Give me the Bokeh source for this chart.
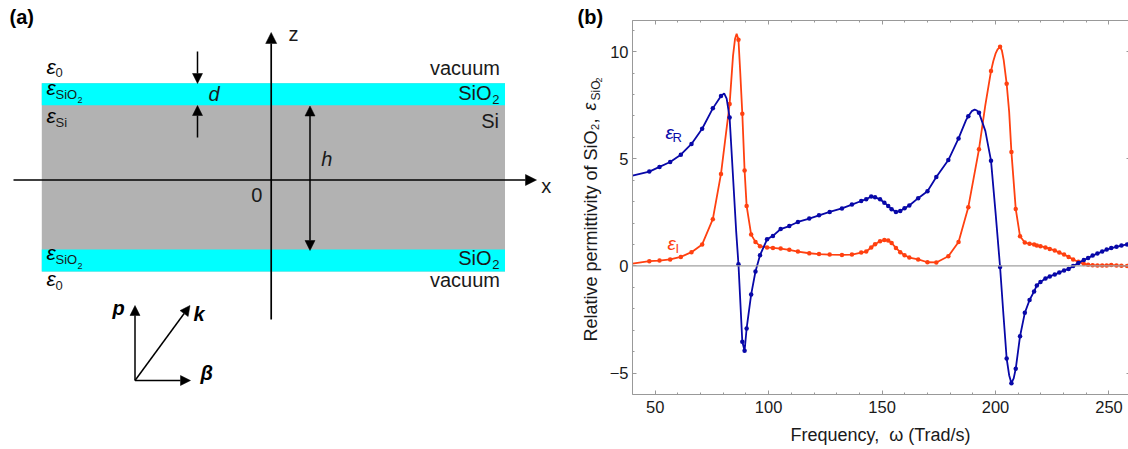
from math import pi
from bokeh.embed import file_html
from bokeh.layouts import row
from bokeh.models import Arrow, FixedTicker, Label, LinearAxis, NormalHead, Range1d, Span
from bokeh.plotting import figure
from bokeh.resources import INLINE

FONT = "Liberation Sans"
BLUE = "#0808A8"
RED = "#FF4010"
AXIS = "#999999"
INK = "#1A1A1A"

# Data: marker samples of both permittivity curves (Trad/s)
freq_pts = [47.4, 51.9, 56.6, 61.3, 66.0, 70.7, 75.4, 79.0, 82.8, 86.7, 88.4, 89.4, 90.3, 92.3, 94.2, 96.2,
            99.3, 101.9, 105.3, 109.1, 112.9, 117.9, 122.2, 126.9, 132.3, 136.7, 140.8, 143.0, 145.2, 146.9,
            149.1, 151.0, 152.7, 154.2, 156.1, 158.0, 159.9, 162.0, 165.9, 170.0, 173.9, 179.2, 183.7, 188.0,
            192.7, 198.0, 202.0, 204.9, 207.0, 208.9, 210.8, 212.9, 215.0, 217.0, 218.2, 219.8, 222.0, 223.9,
            226.1, 228.1, 230.2, 232.2, 234.2, 236.5, 238.9, 240.8, 242.8, 244.9, 247.0, 249.0, 251.0, 253.3,
            255.5, 258.0]
eps_r_pts = [4.40, 4.62, 4.85, 5.19, 5.69, 6.40, 7.35, 7.93, 6.92, 0.08, -3.54, -3.96, -2.92, -1.33, -0.26, 0.50,
             1.24, 1.40, 1.72, 1.86, 2.05, 2.21, 2.36, 2.52, 2.68, 2.86, 3.03, 3.11, 3.24, 3.20,
             3.11, 2.95, 2.80, 2.64, 2.52, 2.56, 2.69, 2.82, 3.16, 3.48, 4.15, 4.94, 5.95, 6.98,
             7.15, 4.91, -0.05, -4.32, -5.47, -4.80, -3.28, -2.19, -1.59, -1.19, -0.91, -0.75, -0.59, -0.49,
             -0.40, -0.31, -0.21, -0.14, -0.01, 0.14, 0.27, 0.37, 0.48, 0.58, 0.67, 0.76, 0.83, 0.89,
             0.95, 1.00]
eps_i_pts = [0.22, 0.25, 0.30, 0.42, 0.64, 1.00, 2.18, 4.29, 7.55, 10.55, 7.10, 4.45, 2.80, 1.46, 1.12, 0.92,
             0.86, 0.84, 0.81, 0.75, 0.67, 0.59, 0.55, 0.53, 0.51, 0.53, 0.62, 0.67, 0.86, 1.01,
             1.15, 1.21, 1.18, 1.07, 0.84, 0.64, 0.50, 0.39, 0.30, 0.17, 0.16, 0.45, 1.12, 2.74,
             5.44, 9.09, 10.22, 8.50, 5.31, 2.66, 1.38, 1.09, 1.03, 1.00, 0.95, 0.92, 0.86, 0.79,
             0.72, 0.62, 0.53, 0.42, 0.30, 0.19, 0.09, 0.05, 0.03, 0.02, 0.02, 0.02, 0.04, 0.02,
             0.01, 0.00]

# Data: extra readings of the continuous curves between markers (ends, peaks, troughs)
freq_r_extra = [40.0, 80.4, 81.5, 84.5, 85.7, 187.0, 189.5, 190.8, 191.8, 195.5, 200.0, 203.5, 206.0, 208.0, 258.6]
eps_r_extra = [4.21, 8.05, 7.80, 3.80, 1.60, 6.80, 7.22, 7.29, 7.25, 6.30, 2.50, -2.30, -5.10, -5.25, 1.01]
freq_i_extra = [40.0, 84.3, 85.2, 85.9, 87.5, 195.5, 199.0, 200.0, 200.9, 202.8, 203.6, 206.0, 258.6]
eps_i_extra = [0.11, 9.80, 10.60, 10.83, 9.00, 7.50, 9.55, 9.90, 10.10, 10.05, 9.60, 7.20, 0.00]

freq_ticks = [50, 100, 150, 200, 250]
freq_minor = [40, 60, 70, 80, 90, 110, 120, 130, 140, 160, 170, 180, 190, 210, 220, 230, 240]
eps_ticks = [-5, 0, 5, 10]
eps_minor = [-4, -3, -2, -1, 1, 2, 3, 4, 6, 7, 8, 9, 11]

PAGE_W, PAGE_H, SPLIT, LEFT_W = 1128, 449, 574, 620
FRAME_L, FRAME_B = 632, 394
BASE_SHIFT = 0.4  # Label draws this share of its font size below the requested baseline


def merged(fx, fy, ex, ey):
    pairs = sorted(zip(list(fx) + list(ex), list(fy) + list(ey)))
    return [a for a, _ in pairs], [b for _, b in pairs]


# ---------- panel (a): schematic, drawn in page pixels ----------
a = figure(width=LEFT_W, height=PAGE_H, output_backend="svg", toolbar_location=None,
           x_range=Range1d(0, LEFT_W), y_range=Range1d(PAGE_H, 0), min_border=0,
           outline_line_color=None, frame_align=False)
a.axis.visible = False
a.grid.visible = False

a.quad(left=[41.3], right=[504.5], top=[82.7], bottom=[271], fill_color="#B2B2B2", line_color=None)
a.quad(left=[41.3, 41.3], right=[504.5, 504.5], top=[82.7, 249], bottom=[104.7, 271],
       fill_color="#00FFFF", line_color=None)


def arrow(x0, y0, x1, y1, both=False, size=10, width=1.5):
    head = lambda: NormalHead(size=size, fill_color="black", line_color="black", line_width=0.5)
    a.add_layout(Arrow(end=head(), start=head() if both else None, x_start=x0, y_start=y0, x_end=x1, y_end=y1,
                       line_color="black", line_width=width))


arrow(13, 179.5, 536, 179.5, size=11, width=1.7)
arrow(270.7, 319, 270.7, 32, size=11, width=1.7)
arrow(197, 51, 197, 83)
arrow(197, 137, 197, 105)
arrow(309.5, 105.5, 309.5, 250, both=True)
arrow(134.5, 380, 134.5, 305)
arrow(134.5, 380, 190, 380)
arrow(134.5, 380, 189.5, 305)


def ta(text, x, y, size=20, style="normal", align="left", color=INK, angle=0):
    shift = BASE_SHIFT * size
    px, py = (x - shift, y) if angle else (x, y - shift)
    a.add_layout(Label(x=px, y=py, text=text, text_font=FONT, text_font_size=f"{size}px", text_font_style=style,
                       text_align=align, text_baseline="alphabetic", text_color=color, angle=angle))


ta("(a)", 9, 24, style="bold", color="black")
ta("z", 288, 41.7)
ta("x", 540.7, 193)
ta("0", 250.7, 202)
ta("d", 208, 101, style="italic")
ta("h", 320.7, 166.7, style="italic")
ta("vacuum", 499.5, 75, align="right")
ta("SiO", 457.7, 100.7)
ta("2", 491.7, 104.5, size=13)
ta("Si", 480.7, 128.3)
ta("SiO", 457.7, 265)
ta("2", 491.7, 269, size=13)
ta("vacuum", 499.5, 287.7, align="right")
for eps_y, sub, sub_y in [(74, "0", 77), (123, "Si", 127), (286.7, "0", 290)]:
    ta("ε", 46, eps_y, size=21, style="italic", color="black")
    ta(sub, 55, sub_y, size=13)
for eps_y, sio_y, two_y in [(95, 98.7, 103), (260.7, 264.3, 269)]:
    ta("ε", 46, eps_y, size=21, style="italic", color="black")
    ta("SiO", 55, sio_y, size=13)
    ta("2", 77, two_y, size=9)
ta("p", 112, 315, style="bold italic", color="black")
ta("k", 193, 321.7, style="bold italic", color="black")
ta("β", 200, 380, style="bold italic", color="black")

# texts of panel (b) that lie outside its plotting frame
ta("(b)", 577, 24, style="bold", color="black")
ta("ε", 597, 110, size=18, style="italic", angle=pi / 2)
ta("SiO", 600, 100, size=12, angle=pi / 2)
ta("2", 602, 82, size=9, angle=pi / 2)

# ---------- panel (b): permittivity ----------
b = figure(width=PAGE_W - SPLIT, height=PAGE_H, output_backend="svg", toolbar_location=None,
           x_range=Range1d(40, 258.6), y_range=Range1d(-6.0, 11.45),
           min_border_left=FRAME_L - SPLIT, min_border_right=0, min_border_top=20, min_border_bottom=PAGE_H - FRAME_B,
           outline_line_color=None, x_axis_location=None, y_axis_location=None, frame_align=False,
           background_fill_color=None, border_fill_color=None,
           margin=(0, 0, 0, SPLIT - LEFT_W))
b.grid.visible = False


def axis(side, labels):
    horizontal = side in ("below", "above")
    ticks = freq_ticks if horizontal else eps_ticks
    ax = LinearAxis(ticker=FixedTicker(ticks=ticks, minor_ticks=freq_minor if horizontal else eps_minor),
                    axis_line_color=AXIS, axis_line_width=1,
                    major_tick_line_color=AXIS, minor_tick_line_color=AXIS,
                    major_tick_in=4, major_tick_out=0, minor_tick_in=2, minor_tick_out=0,
                    major_label_text_font=FONT, major_label_text_font_size="16.5px" if labels else "1px",
                    major_label_text_color=INK, major_label_standoff=0)
    if not labels:
        ax.major_label_overrides = {t: "" for t in ticks}
    b.add_layout(ax, side)
    return ax


xb = axis("below", True)
xb.major_label_standoff = 6
xb.axis_label = "Frequency,\u00a0\u00a0ω (Trad/s)"
xb.axis_label_text_font = FONT
xb.axis_label_text_font_size = "18px"
xb.axis_label_text_font_style = "normal"
xb.axis_label_text_color = INK
xb.axis_label_standoff = 9

yl = axis("left", True)
yl.major_label_standoff = 4
yl.major_label_overrides = {-5: "−5"}
yl.axis_label = "Relative permittivity of SiO₂,\u00a0\u00a0" + "\u00a0" * 7
yl.axis_label_text_font = FONT
yl.axis_label_text_font_size = "18px"
yl.axis_label_text_font_style = "normal"
yl.axis_label_text_color = INK
yl.axis_label_standoff = 6

axis("above", False)
yr = axis("right", False)
yr.axis_line_color = None
yr.major_tick_in = 2
yr.minor_tick_in = 0
yr.minor_tick_line_color = None

b.add_layout(Span(location=0, dimension="width", line_color="#A0A0A0", line_width=1.3))

lx, ly = merged(freq_pts, eps_r_pts, freq_r_extra, eps_r_extra)
ix, iy = merged(freq_pts, eps_i_pts, freq_i_extra, eps_i_extra)
b.line(ix, iy, line_color=RED, line_width=1.8)
b.scatter(freq_pts, eps_i_pts, size=4.5, fill_color=RED, line_color=RED, line_width=0)
b.line(lx, ly, line_color=BLUE, line_width=1.8)
b.scatter(freq_pts, eps_r_pts, size=4.5, fill_color=BLUE, line_color=BLUE, line_width=0)


def tb(text, x, y, size=16, style="normal", color=INK):
    # Label screen units are measured from the frame's lower-left corner
    b.add_layout(Label(x=x - FRAME_L, y=FRAME_B - y + BASE_SHIFT * size, x_units="screen", y_units="screen",
                       text=text, text_font=FONT, text_font_size=f"{size}px", text_font_style=style,
                       text_baseline="alphabetic", text_color=color))


tb("ε", 665, 140, size=19, style="italic", color=BLUE)
tb("R", 672, 142, size=13, color=BLUE)
tb("ε", 667, 251, size=19, style="italic", color=RED)
tb("I", 675, 253, size=13, color=RED)

open("out.html", "w").write(file_html(row(a, b, spacing=0), INLINE))
